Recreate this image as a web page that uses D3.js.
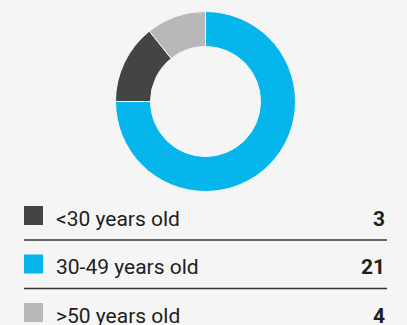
<!DOCTYPE html>
<html>
<head>
<meta charset="utf-8">
<script src="https://cdn.jsdelivr.net/npm/d3@7"></script>
<style>
  html, body { margin: 0; padding: 0; background: #f5f5f5; }
  svg { display: block; }
</style>
</head>
<body>
<svg id="chart" width="407" height="325"></svg>
<script>
// Age groups and headcount
const categories = ["<30 years old", "30-49 years old", ">50 years old"];
const values = [3, 21, 4];
const colors = ["#444444", "#05b5ec", "#b8b8b8"];
// Ring: category order clockwise from 12 o'clock, and the fill of each ring position
const ringOrder = [1, 2, 0];
const ringColors = ["#05b5ec", "#444444", "#b8b8b8"];

const svg = d3.select("#chart");

// Donut
const cx = 205.5, cy = 101.5, rOuter = 90, rInner = 55;
const pie = d3.pie()
  .value(i => values[i])
  .sort(null);
const arc = d3.arc().innerRadius(rInner).outerRadius(rOuter);

svg.append("g")
  .attr("transform", `translate(${cx},${cy})`)
  .selectAll("path")
  .data(pie(ringOrder))
  .join("path")
  .attr("d", arc)
  .attr("fill", (d, i) => ringColors[i])
  .attr("stroke", "#f5f5f5")
  .attr("stroke-width", 1);

// Legend table
const left = 24, right = 386;
const rowY = d3.scalePoint()
  .domain(categories)
  .range([206, 303]);
const sw = 19;

const rows = svg.append("g")
  .selectAll("g")
  .data(categories)
  .join("g")
  .attr("transform", d => `translate(0,${rowY(d)})`);

rows.append("rect")
  .attr("x", left)
  .attr("y", 0)
  .attr("width", sw)
  .attr("height", sw)
  .attr("fill", (d, i) => colors[i]);

rows.append("text")
  .attr("x", 56)
  .attr("y", 19.5)
  .attr("font-family", "Roboto, sans-serif")
  .attr("font-size", 21)
  .attr("fill", "#1e1e1e")
  .text(d => d);

rows.append("text")
  .attr("x", right - 1)
  .attr("y", 19.5)
  .attr("text-anchor", "end")
  .attr("font-family", "Roboto, sans-serif")
  .attr("font-weight", "bold")
  .attr("font-size", 21)
  .attr("fill", "#1e1e1e")
  .text((d, i) => values[i]);

// Separators between rows
rows.filter((d, i) => i < categories.length - 1)
  .append("line")
  .attr("x1", left)
  .attr("x2", right + 1)
  .attr("y1", 34)
  .attr("y2", 34)
  .attr("stroke", "#333")
  .attr("stroke-width", 1.4);
</script>
</body>
</html>
